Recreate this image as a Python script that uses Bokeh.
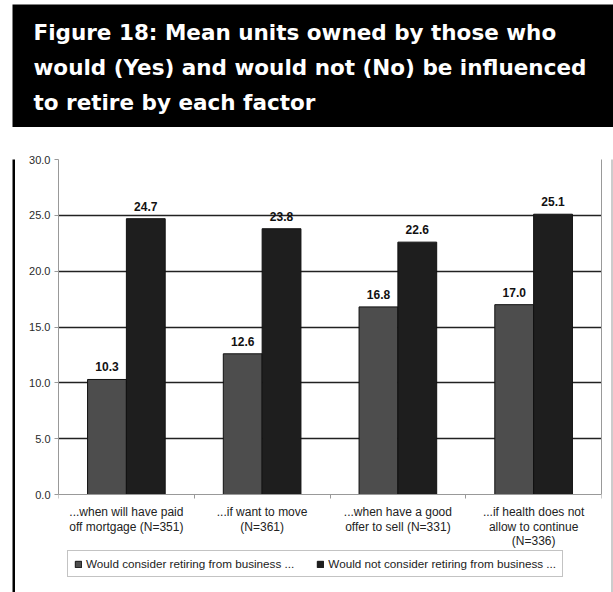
from bokeh.plotting import figure
from bokeh.layouts import column, row
from bokeh.models import (ColumnDataSource, Range1d, Legend, LegendItem,
                          FixedTicker, NumeralTickFormatter, LinearAxis)
from bokeh.core.properties import value
from bokeh.embed import file_html
from bokeh.resources import INLINE

# ---- data ----
category_lines = [["...when will have paid", "off mortgage (N=351)", ""],
                  ["...if want to move", "(N=361)", ""],
                  ["...when have a good", "offer to sell (N=331)", ""],
                  ["...if health does not", "allow to continue", "(N=336)"]]
yes_values = [10.3, 12.6, 16.8, 17.0]
no_values = [24.7, 23.8, 22.6, 25.1]
series_names = ["Would consider retiring from business ...",
                "Would not consider retiring from business ..."]
title_lines = ["Figure 18: Mean units owned by those who",
               "would (Yes) and would not (No) be influenced",
               "to retire by each factor"]
y_ticks = [0, 5, 10, 15, 20, 25, 30]

n = len(category_lines)
centers = [i + 0.5 for i in range(n)]
boundaries = [float(i) for i in range(n + 1)]

FONT = "Liberation Sans"

# ---- header ----
hdr = figure(width=613, height=127, x_range=Range1d(0, 601), y_range=Range1d(123, 0),
             output_backend="svg", toolbar_location=None,
             x_axis_location=None, y_axis_location=None,
             min_border_left=12, min_border_right=0, min_border_top=4, min_border_bottom=0)
hdr.frame_width = 601
hdr.frame_height = 123
hdr.background_fill_color = "black"
hdr.border_fill_color = "white"
hdr.outline_line_color = None
hdr.grid.visible = False
hdr.text(x=[21] * 3, y=[28, 63, 98], text=title_lines, text_color="white",
         text_font=value("DejaVu Sans"), text_font_style="bold", text_font_size="21.5px",
         text_baseline="middle", text_align="left")

# ---- left / right border strips ----
STRIP_H = 493
def strip(width, ml, mr, color):
    s = figure(width=width, height=STRIP_H, x_range=Range1d(0, 1), y_range=Range1d(0, 1),
               output_backend="svg", toolbar_location=None,
               x_axis_location=None, y_axis_location=None,
               min_border_left=ml, min_border_right=mr, min_border_top=0, min_border_bottom=0)
    s.frame_width = width - ml - mr
    s.frame_height = STRIP_H
    s.background_fill_color = color
    s.border_fill_color = "white"
    s.outline_line_color = None
    s.grid.visible = False
    return s

left = strip(15, 12, 0, "black")
right = strip(2, 0, 1, "#999999")

# ---- main chart ----
off = 0.143
bw = 0.286
y_top = 30
px_per_unit = 335 / 30
frame_h = 433
y_bottom = y_top - frame_h / px_per_unit   # room under the axis for labels and legend

src = ColumnDataSource(dict(
    x_yes=[c - off for c in centers], x_no=[c + off for c in centers],
    yes=yes_values, no=no_values,
    yes_lbl=["%.1f" % v for v in yes_values],
    no_lbl=["%.1f" % v for v in no_values]))

p = figure(width=596, height=465, x_range=Range1d(0, n), y_range=Range1d(y_bottom, y_top),
           output_backend="svg", toolbar_location=None, x_axis_location=None,
           min_border_left=43, min_border_right=10, min_border_top=32,
           min_border_bottom=0)
p.frame_width = 543
p.frame_height = frame_h
p.background_fill_color = "white"
p.border_fill_color = "white"
p.outline_line_color = None

r1 = p.vbar(x="x_yes", top="yes", width=bw, source=src,
            fill_color="#4d4d4d", line_color="#111111", line_width=1)
r2 = p.vbar(x="x_no", top="no", width=bw, source=src,
            fill_color="#1e1e1e", line_color="#111111", line_width=1)

for xc, col, lbl in (("x_yes", "yes", "yes_lbl"), ("x_no", "no", "no_lbl")):
    p.text(x=xc, y=col, text=lbl, source=src,
           text_align="center", text_baseline="bottom", y_offset=-8,
           text_font=value(FONT), text_font_style="bold", text_font_size="12px",
           text_color="#111111")

p.yaxis.ticker = FixedTicker(ticks=y_ticks)
p.yaxis.bounds = (0, y_top)
p.yaxis.formatter = NumeralTickFormatter(format="0.0")
p.yaxis.axis_line_color = "#999999"
p.yaxis.major_tick_line_color = "#999999"
p.yaxis.major_tick_out = 4
p.yaxis.major_tick_in = 0
p.yaxis.minor_tick_line_color = None
p.yaxis.major_label_text_font = FONT
p.yaxis.major_label_text_font_size = "11px"
p.yaxis.major_label_text_color = "#2a2a2a"
p.yaxis.major_label_standoff = 4

# right border of plot area
rax = LinearAxis(bounds=(0, y_top), ticker=FixedTicker(ticks=[]),
                 axis_line_color="#999999", major_tick_line_color=None,
                 minor_tick_line_color=None, major_label_text_font_size="0px")
p.add_layout(rax, "right")

# category axis: one axis per label line, all anchored at y = 0
for k, standoff in ((0, 6), (1, 25), (2, 39)):
    ax = LinearAxis(fixed_location=0)
    ax.ticker = FixedTicker(ticks=centers, minor_ticks=boundaries if k == 0 else [])
    ax.major_label_overrides = {c: lines[k] for c, lines in zip(centers, category_lines)}
    ax.axis_line_color = "#999999" if k == 0 else None
    ax.major_tick_line_color = None
    ax.minor_tick_line_color = "#999999" if k == 0 else None
    ax.minor_tick_out = 4 if k == 0 else 0
    ax.minor_tick_in = 0
    ax.major_tick_out = 0
    ax.major_tick_in = 0
    ax.major_label_text_font = FONT
    ax.major_label_text_font_size = "12px"
    ax.major_label_text_color = "#222222"
    ax.major_label_standoff = standoff
    ax.major_label_orientation = "horizontal"
    p.add_layout(ax, "below")

p.xgrid.grid_line_color = None
p.ygrid.grid_line_color = "#222222"
p.ygrid.grid_line_width = 1.5
p.ygrid.ticker = FixedTicker(ticks=y_ticks[1:])
p.ygrid.bounds = (0, n)

legend = Legend(items=[LegendItem(label=series_names[0], renderers=[r1]),
                       LegendItem(label=series_names[1], renderers=[r2])],
                orientation="horizontal", location=(9, 15),
                label_text_font=FONT, label_text_font_size="11.7px",
                label_text_color="#222222", glyph_width=8, glyph_height=8,
                label_standoff=4, spacing=22, padding=6, margin=0,
                border_line_color="#888888", border_line_width=1,
                background_fill_color="white", background_fill_alpha=1)
p.add_layout(legend, "center")

layout = column(hdr, row(left, p, right, spacing=0), spacing=0)
open("out.html", "w").write(file_html(layout, INLINE))
